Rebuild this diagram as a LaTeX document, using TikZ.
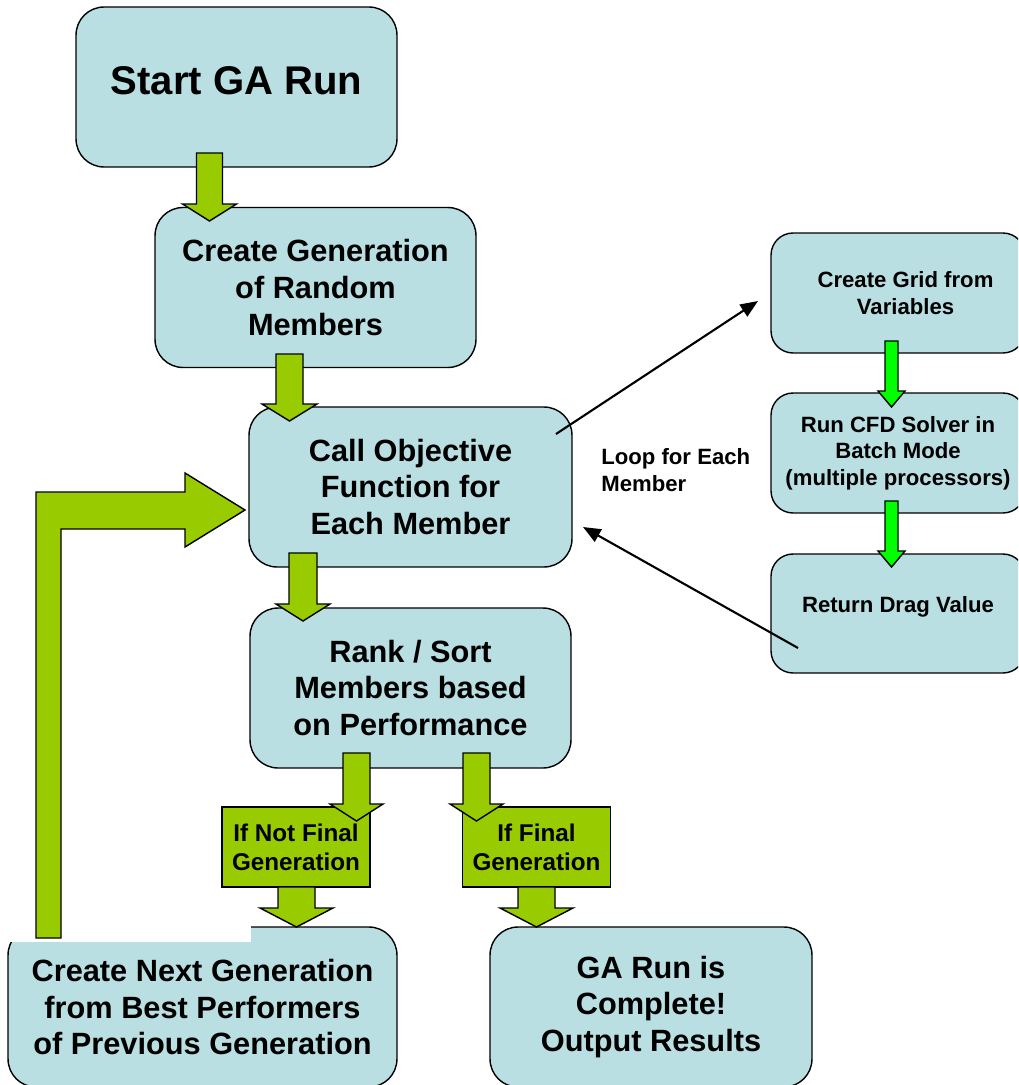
\documentclass[tikz,border=0pt]{standalone}
\usepackage{fontspec}
\setmainfont{Liberation Sans}
\usetikzlibrary{calc,positioning}
\usetikzlibrary{arrows.meta}
\tikzset{>={Triangle[width=8pt,length=10pt]}}
\definecolor{boxblue}{HTML}{B9DFE3}
\definecolor{gaolive}{HTML}{99CC00}
\definecolor{cfdgreen}{HTML}{00FF00}
% fat downward arrow: colour, x, top, tip, half shaft, half head, head length
\newcommand{\blockdown}[7]{%
  \filldraw[fill=#1, draw=black, line width=0.8pt, line join=miter]
    ({#2-#5},#3) -- ({#2+#5},#3) -- ({#2+#5},{#4-#7}) -- ({#2+#6},{#4-#7}) -- (#2,#4)
    -- ({#2-#6},{#4-#7}) -- ({#2-#5},{#4-#7}) -- cycle;}

\begin{document}
\begin{tikzpicture}[x=0.02cm, y=-0.02cm]
        \tikzstyle{gabox} = [draw=black, line width=0.8pt, fill=boxblue, rounded corners=0.56cm, align=center, inner sep=0pt, minimum width=6.42cm, minimum height=3.2cm, font=\fontsize{17.5}{21}\selectfont\bfseries]
        \tikzstyle{cfdbox} = [gabox, rounded corners=0.44cm, minimum width=5.08cm, minimum height=2.4cm, font=\fontsize{12.6}{15}\selectfont\bfseries]
        \tikzstyle{ifbox} = [draw=black, line width=0.8pt, fill=gaolive, align=center, inner sep=0pt, minimum width=2.96cm, minimum height=1.6cm, font=\fontsize{13.8}{16.5}\selectfont\bfseries]
        \useasboundingbox (0,0) rectangle (1018,1085);
        \clip (0,0) rectangle (1018,1085);

        \node[gabox, text depth=7.4pt, font=\fontsize{22.8}{27}\selectfont\bfseries] (start) at (236.5,87) {Start GA Run};
        \node[gabox] (create) at (315.5,287.5) {Create Generation\\of Random\\Members};
        \node[gabox, minimum width=6.46cm] (call) at (410.5,487) {Call Objective\\Function for\\Each Member};
        \node[gabox] (rank) at (410.5,688) {Rank / Sort\\Members based\\on Performance};
        \node[gabox, minimum width=7.78cm] (nextgen) at (202.5,1007) {Create Next Generation\\from Best Performers\\of Previous Generation};
        \node[gabox, minimum width=6.44cm] (done) at (651,1007) {GA Run is\\Complete!\\Output Results};

        \node[cfdbox] (grid) at (898,293) {\hspace*{0.3cm}Create Grid from\\\hspace*{0.3cm}Variables};
        \node[cfdbox] (cfd) at (898,453) {Run CFD Solver in\\Batch Mode\\(multiple processors)};
        \node[cfdbox, minimum height=2.38cm, text depth=10.3pt] (drag) at (898,613.5) {Return Drag Value};

        \node[ifbox] (notfinal) at (296,847) {If Not Final\\Generation};
        \node[ifbox] (final) at (536.5,847) {If Final\\Generation};

        \node[anchor=west, align=left, inner sep=0pt, font=\fontsize{12.6}{15.3}\selectfont\bfseries] (loop) at (601,470) {Loop for Each\\Member};

        \blockdown{gaolive}{209.5}{153}{221}{13}{27}{17}
        \blockdown{gaolive}{289.5}{354}{421}{13.5}{27.5}{17}
        \blockdown{gaolive}{303}{553}{621}{14}{27}{17}
        \blockdown{gaolive}{356.5}{753}{821}{13.5}{26.5}{17}
        \blockdown{gaolive}{476.5}{753}{821}{13.5}{26.5}{17}
        \blockdown{gaolive}{296.5}{887}{927}{18.5}{36.5}{19}
        \blockdown{gaolive}{536.5}{887}{927}{18.5}{36.5}{19}
        \blockdown{cfdgreen}{891.5}{341}{407}{6.5}{13.5}{16}
        \blockdown{cfdgreen}{891.5}{501}{567}{6.5}{13.5}{16}

        \fill[white] (0,900) rectangle (251,942);
        \filldraw[fill=gaolive, draw=black, line width=0.8pt, line join=miter] (36,938) -- (36,492) -- (185,492) -- (185,473) -- (245,510) -- (185,547) -- (185,529) -- (61,529) -- (61,938) -- cycle;

        \coordinate (callout) at (556,434);
        \coordinate (gridin) at (758,301);
        \coordinate (dragout) at (798,648);
        \coordinate (callin) at (583,527);
        \draw[->, line width=1.2pt] (callout) -- (gridin);
        \draw[->, line width=1.2pt] (dragout) -- (callin);
      \end{tikzpicture}
\end{document}
